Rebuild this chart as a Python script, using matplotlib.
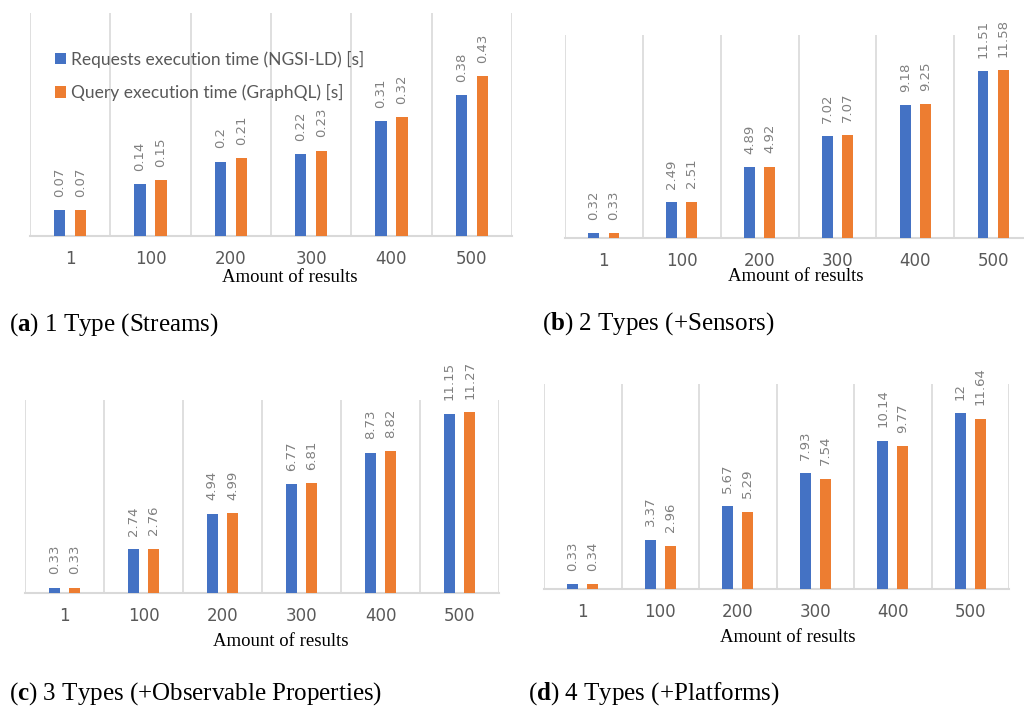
import matplotlib
matplotlib.use('Agg')
import matplotlib.pyplot as plt
import numpy as np

plt.rcParams['mathtext.fontset'] = 'custom'
plt.rcParams['mathtext.rm'] = 'Liberation Serif'
plt.rcParams['mathtext.bf'] = 'Liberation Serif:bold'

categories = ['1', '100', '200', '300', '400', '500']

a_ngsi = [0.07, 0.14, 0.2, 0.22, 0.31, 0.38]
a_gql = [0.07, 0.15, 0.21, 0.23, 0.32, 0.43]
b_ngsi = [0.32, 2.49, 4.89, 7.02, 9.18, 11.51]
b_gql = [0.33, 2.51, 4.92, 7.07, 9.25, 11.58]
c_ngsi = [0.33, 2.74, 4.94, 6.77, 8.73, 11.15]
c_gql = [0.33, 2.76, 4.99, 6.81, 8.82, 11.27]
d_ngsi = [0.33, 3.37, 5.67, 7.93, 10.14, 12]
d_gql = [0.34, 2.96, 5.29, 7.54, 9.77, 11.64]

series_names = ['Requests execution time (NGSI-LD) [s]', 'Query execution time (GraphQL) [s]']
captions = [r'($\mathbf{a}$) 1 Type (Streams)',
            r'($\mathbf{b}$) 2 Types (+Sensors)',
            r'($\mathbf{c}$) 3 Types (+Observable Properties)',
            r'($\mathbf{d}$) 4 Types (+Platforms)']

BLUE = '#4472C4'
ORANGE = '#ED7D31'
GRID = '#d9d9d9'

fig = plt.figure(figsize=(10.24, 7.06), dpi=100)
W, H = 1024, 706


def px_axes(left, right, top, bottom):
    return fig.add_axes([left / W, 1 - bottom / H, (right - left) / W, (bottom - top) / H])


panels = [
    # box = left, right, top, bottom in pixels; lx/ly = xlabel position in axes coords
    dict(box=(30, 512, 13, 236), ymax=0.6, lx=0.539, ly=-0.184, data=(a_ngsi, a_gql)),
    dict(box=(565, 1032, 35, 238), ymax=14, lx=0.494, ly=-0.192, data=(b_ngsi, b_gql)),
    dict(box=(25, 499, 400, 593), ymax=12, lx=0.539, ly=-0.250, data=(c_ngsi, c_gql)),
    dict(box=(544, 1009, 384, 589), ymax=14, lx=0.525, ly=-0.236, data=(d_ngsi, d_gql)),
]

x = np.arange(len(categories))
width = 0.14
offset = 0.13

axes = []
for p in panels:
    ax = px_axes(*p['box'])
    ngsi, gql = p['data']
    b1 = ax.bar(x - offset, ngsi, width, color=BLUE, label=series_names[0], zorder=3)
    b2 = ax.bar(x + offset, gql, width, color=ORANGE, label=series_names[1], zorder=3)
    for bars, vals in ((b1, ngsi), (b2, gql)):
        for rect, v in zip(bars, vals):
            ax.annotate(f'{v:g}', (rect.get_x() + rect.get_width() / 2, rect.get_height()),
                        xytext=(0, 9.5), textcoords='offset points', rotation=90,
                        ha='center', va='bottom', fontsize=9.5, color='#808080',
                        family='DejaVu Sans')
    ax.set_xlim(-0.5, len(categories) - 0.5)
    ax.set_ylim(0, p['ymax'])
    ax.set_yticks([])
    ax.set_xticks(x)
    ax.set_xticklabels(categories, fontsize=12, color='#595959', family='DejaVu Sans')
    ax.set_xticks(np.arange(len(categories) + 1) - 0.5, minor=True)
    ax.tick_params(axis='x', which='both', length=0, pad=10)
    ax.grid(which='minor', axis='x', color=GRID, linewidth=1.2)
    for s in ('top', 'left', 'right'):
        ax.spines[s].set_visible(False)
    ax.spines['bottom'].set_color(GRID)
    ax.spines['bottom'].set_linewidth(1.5)
    ax.set_xlabel('Amount of results', fontsize=13.5, family='Liberation Serif', color='black')
    ax.xaxis.label.set_verticalalignment('center')
    ax.xaxis.set_label_coords(p['lx'], p['ly'])
    axes.append(ax)

axes[0].legend(loc='upper left', bbox_to_anchor=(0.033, 0.87), frameon=False,
               labelcolor='#595959', handlelength=0.65, handleheight=0.65,
               handletextpad=0.3, labelspacing=0.95, borderpad=0,
               prop={'family': 'Lato', 'size': 12.5})

# sub-figure captions
cap_pos = [(9, 331), (542, 330), (9, 700), (528, 700)]
for (cx, cy), txt in zip(cap_pos, captions):
    fig.text(cx / W, 1 - cy / H, txt, fontsize=18, family='Liberation Serif',
             ha='left', va='baseline')

fig.savefig('out.png', dpi=100)
